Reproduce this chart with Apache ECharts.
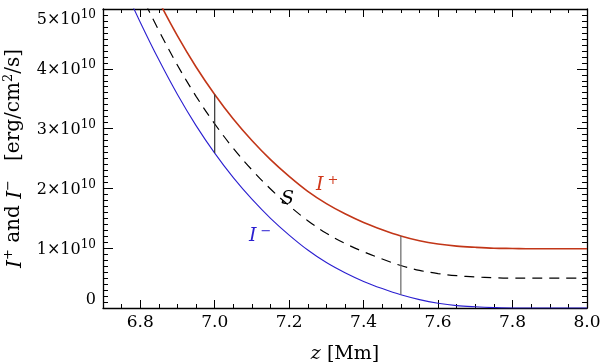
<!DOCTYPE html>
<html><head><meta charset="utf-8">
<script src="https://cdn.jsdelivr.net/npm/echarts@6/dist/echarts.min.js"></script>
<style>html,body{margin:0;padding:0;background:#fff}#c{width:600px;height:364px}</style>
</head><body><div id="c"></div>
<script>
// z [Mm]
const zValues = [6.70,6.75,6.80,6.85,6.90,6.95,7.00,7.05,7.10,7.15,7.20,7.25,7.30,7.35,7.40,7.45,7.50,7.55,7.60,7.65,7.70,7.75,7.80,7.85,7.90,7.95,8.00];
// I+ in units of 1e10 erg/cm^2/s
const iPlus  = [7.13,6.43,5.76,5.13,4.55,4.03,3.57,3.16,2.80,2.48,2.20,1.95,1.745,1.575,1.43,1.31,1.205,1.125,1.07,1.035,1.015,1.00,0.995,0.99,0.99,0.99,0.99];
// I- in units of 1e10
const iMinus = [6.15,5.45,4.78,4.15,3.57,3.05,2.59,2.18,1.82,1.50,1.22,0.97,0.76,0.59,0.445,0.325,0.22,0.14,0.08,0.04,0.02,0.007,0.00,0.00,0.00,0.00,0.00];
// S in units of 1e10
const sFunc  = [6.64,5.94,5.27,4.64,4.06,3.54,3.08,2.67,2.31,1.99,1.71,1.46,1.25,1.08,0.94,0.82,0.71,0.63,0.575,0.54,0.52,0.505,0.50,0.50,0.50,0.50,0.50];
// vertical connectors at these z
const connectorZ = [7.0, 7.5];
const xMajorTicks = [6.8,7.0,7.2,7.4,7.6,7.8,8.0];
const SCALE = 1e10;

const pair = (arr) => zValues.map((z,i)=>[z, arr[i]*SCALE]);
const idx = (z) => zValues.findIndex(v => Math.abs(v - z) < 1e-9);

const FONT = 'DejaVu Serif';
const chart = echarts.init(document.getElementById('c'), null, {renderer:'canvas'});

const connectorSeries = connectorZ.map((z,k) => {
  const i = idx(z);
  return {
    type:'line', xAxisIndex:0, yAxisIndex:0, symbol:'none', silent:true,
    data:[[z, iMinus[i]*SCALE],[z, iPlus[i]*SCALE]],
    lineStyle:{color: k===0 ? '#333' : '#666', width:1.2}
  };
});

const baseX = {
  type:'value', min:6.7, max:8.0, gridIndex:0,
  splitLine:{show:false}
};
const lineSmooth = {smooth:0.35};
const option = {
  animation:false,
  backgroundColor:'#fff',
  grid:{left:103, right:13, top:9, bottom:56, containLabel:false, outerBoundsMode:'none'},
  xAxis:[
    Object.assign({}, baseX, {
      position:'bottom', interval:0.05,
      axisLine:{show:true, lineStyle:{color:'#000', width:1.3}},
      axisTick:{show:true, inside:true, length:4, lineStyle:{color:'#000'}},
      axisLabel:{show:true, margin:6, color:'#000', fontFamily:FONT, fontSize:17,
        customValues: xMajorTicks,
        formatter:(v)=>v.toFixed(1)},
      name:'{i|z} [Mm]', nameLocation:'middle', nameGap:37,
      nameTextStyle:{color:'#000', fontFamily:FONT, fontSize:19,
        rich:{i:{fontStyle:'italic', fontFamily:FONT, fontSize:19, color:'#000'}}}
    }),
    Object.assign({}, baseX, {
      position:'bottom', axisLine:{show:false},
      axisTick:{show:true, inside:true, length:8, customValues:xMajorTicks, lineStyle:{color:'#000'}},
      axisLabel:{show:false}
    }),
    Object.assign({}, baseX, {
      position:'top', interval:0.05,
      axisLine:{show:true, lineStyle:{color:'#000', width:1.3}},
      axisTick:{show:true, inside:true, length:4, lineStyle:{color:'#000'}},
      axisLabel:{show:false}
    }),
    Object.assign({}, baseX, {
      position:'top', axisLine:{show:false},
      axisTick:{show:true, inside:true, length:8, customValues:xMajorTicks, lineStyle:{color:'#000'}},
      axisLabel:{show:false}
    })
  ],
  yAxis:[
    {
      type:'value', min:0, max:5e10, interval:1e10, position:'left',
      splitLine:{show:false},
      axisLine:{show:true, lineStyle:{color:'#000', width:1.3}},
      axisTick:{show:true, inside:true, length:10, lineStyle:{color:'#000'}},
      minorTick:{show:true, splitNumber:10, length:5, lineStyle:{color:'#000'}},
      axisLabel:{color:'#000', fontFamily:FONT, margin:7,
        verticalAlignMinLabel:'bottom', verticalAlignMaxLabel:'top',
        formatter:(v)=> v===0 ? '{n|0}' : '{n|'+Math.round(v/SCALE)+'×10}{e|10}',
        rich:{
          n:{fontFamily:FONT, fontSize:16, color:'#000', verticalAlign:'bottom', lineHeight:19},
          e:{fontFamily:FONT, fontSize:12, color:'#000', verticalAlign:'top', lineHeight:19}
        }},
      name:'{i|I}{s|+} and {i|I}{s|−}   [erg/cm{s|2}/s]',
      nameLocation:'middle', nameRotate:90, nameGap:72,
      nameTextStyle:{color:'#000', fontFamily:FONT, fontSize:20,
        rich:{
          i:{fontStyle:'italic', fontFamily:FONT, fontSize:20, color:'#000', verticalAlign:'bottom', lineHeight:24},
          s:{fontFamily:FONT, fontSize:13, color:'#000', verticalAlign:'top', lineHeight:24}
        }}
    },
    {
      type:'value', min:0, max:5e10, interval:1e10, position:'right',
      splitLine:{show:false},
      axisLine:{show:true, lineStyle:{color:'#000', width:1.3}},
      axisTick:{show:true, inside:true, length:10, lineStyle:{color:'#000'}},
      minorTick:{show:true, splitNumber:10, length:5, lineStyle:{color:'#000'}},
      axisLabel:{show:false}
    }
  ],
  series:[
    Object.assign({type:'line', name:'I-', data:pair(iMinus), symbol:'none', clip:true,
      lineStyle:{color:'#2b1fd0', width:1.1}}, lineSmooth),
    Object.assign({type:'line', name:'S', data:pair(sFunc), symbol:'none', clip:true,
      lineStyle:{color:'#000', width:1.2, type:[10,7]}}, lineSmooth),
    Object.assign({type:'line', name:'I+', data:pair(iPlus), symbol:'none', clip:true,
      lineStyle:{color:'#c23618', width:1.6}}, lineSmooth),
    ...connectorSeries
  ],
  graphic:[
    {type:'text', left:316, top:174, style:{
      text:'{i|I}{s|+}', rich:{
        i:{fontFamily:FONT, fontStyle:'italic', fontSize:19, fill:'#d0381a', verticalAlign:'bottom', lineHeight:21},
        s:{fontFamily:FONT, fontSize:13, fill:'#d0381a', verticalAlign:'top', lineHeight:21, padding:[0,0,0,4]}
      }}},
    {type:'text', left:281, top:190, style:{
      text:'S', fontFamily:FONT, fontStyle:'italic', fontSize:19, fill:'#000'}},
    {type:'text', left:249, top:225, style:{
      text:'{i|I}{s|−}', rich:{
        i:{fontFamily:FONT, fontStyle:'italic', fontSize:19, fill:'#2b1fd0', verticalAlign:'bottom', lineHeight:21},
        s:{fontFamily:FONT, fontSize:13, fill:'#2b1fd0', verticalAlign:'top', lineHeight:21, padding:[0,0,0,4]}
      }}}
  ]
};
chart.setOption(option);
</script>
</body></html>
